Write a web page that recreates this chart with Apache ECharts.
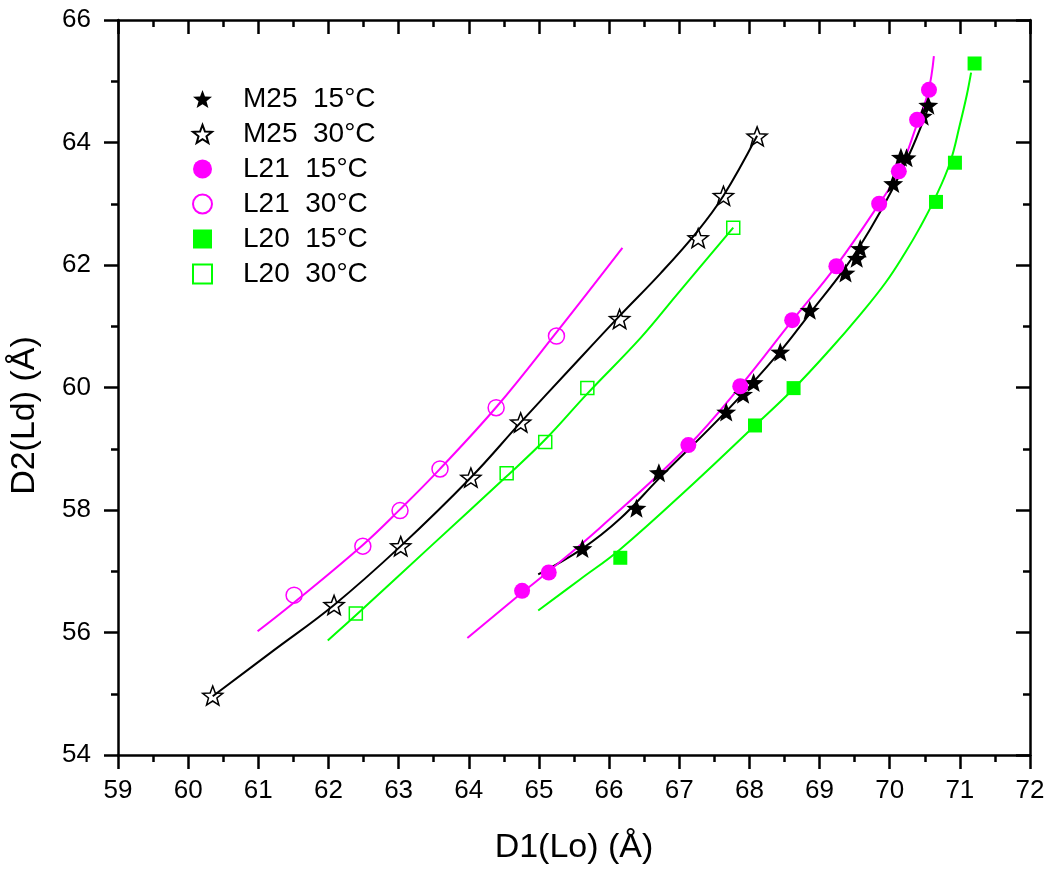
<!DOCTYPE html>
<html>
<head>
<meta charset="utf-8">
<script src="https://cdn.jsdelivr.net/npm/echarts/dist/echarts.min.js"></script>
<style>
html,body{margin:0;padding:0;background:#fff;}
#chart{width:1050px;height:870px;}
</style>
</head>
<body>
<div id="chart"></div>
<script>
// ---- tick labels ----
const xTickValues = [59,60,61,62,63,64,65,66,67,68,69,70,71,72];
const yTickValues = [54,56,58,60,62,64,66];

// ---- legend names ----
const seriesNames = ['M25  15°C','M25  30°C','L21  15°C','L21  30°C','L20  15°C','L20  30°C'];

// ---- measured points ----
const m25_15_x = [65.62,66.39,66.71,67.67,67.91,68.06,68.44,68.86,69.37,69.53,69.58,70.05,70.16,70.24,70.47,70.55];
const m25_15_y = [57.37,58.03,58.61,59.60,59.89,60.08,60.58,61.26,61.87,62.11,62.27,63.33,63.76,63.75,64.43,64.61];
const m25_30_x = [60.35,62.08,63.03,64.03,64.74,66.15,67.27,67.63,68.11];
const m25_30_y = [54.97,56.45,57.41,58.53,59.43,61.12,62.44,63.13,64.10];
const l21_15_x = [64.76,65.14,67.13,67.87,68.61,69.24,69.85,70.13,70.39,70.56];
const l21_15_y = [56.68,56.98,59.06,60.02,61.10,61.98,63.00,63.53,64.37,64.86];
const l21_30_x = [61.51,62.49,63.02,63.59,64.39,65.25];
const l21_30_y = [56.61,57.41,57.99,58.67,59.67,60.84];
const l20_15_x = [66.16,68.08,68.63,70.66,70.93,71.21];
const l20_15_y = [57.22,59.38,59.99,63.03,63.67,65.29];
const l20_30_x = [62.39,64.54,65.09,65.69,67.77];
const l20_30_y = [56.31,58.60,59.11,59.99,62.61];

// ---- fitted curves ----
const fit_m25_15_x = [64.99,65.62,66.16,66.70,67.67,68.44,68.87,69.37,69.72,70.05,70.32,70.58];
const fit_m25_15_y = [56.95,57.37,57.86,58.50,59.61,60.59,61.22,61.96,62.58,63.26,63.91,64.66];
const fit_m25_30_x = [60.35,61.21,62.08,63.03,64.03,64.74,65.45,66.15,66.73,67.26,67.63,68.11];
const fit_m25_30_y = [54.96,55.70,56.45,57.41,58.53,59.43,60.31,61.17,61.86,62.55,63.13,64.11];
const fit_l21_15_x = [63.98,64.77,65.14,65.88,67.13,67.87,68.61,69.24,69.85,70.14,70.39,70.55,70.63];
const fit_l21_15_y = [55.91,56.66,57.00,57.72,59.05,60.02,61.09,61.99,63.00,63.54,64.30,64.83,65.41];
const fit_l21_30_x = [60.99,61.51,62.49,63.02,63.58,64.40,65.25,66.19];
const fit_l21_30_y = [56.02,56.49,57.43,58.01,58.66,59.69,60.90,62.28];
const fit_l20_15_x = [64.99,65.59,66.16,67.20,68.08,68.63,69.15,69.58,69.94,70.22,70.43,70.65,70.86,71.00,71.10,71.16];
const fit_l20_15_y = [56.36,56.87,57.36,58.43,59.38,59.98,60.62,61.19,61.71,62.20,62.61,63.10,63.67,64.29,64.78,65.14];
const fit_l20_30_x = [61.99,62.39,63.46,64.54,65.09,65.69,66.45,66.97,67.77];
const fit_l20_30_y = [55.87,56.28,57.41,58.55,59.15,59.90,60.81,61.52,62.61];

// ---- build ----
const zip = (xs, ys) => xs.map((x, i) => [x, ys[i]]);
const FONT = "'Liberation Sans', Arial, sans-serif";
const BLACK = '#000000', MAG = '#ff00ff', GREEN = '#00ff00';
const STAR = 'path://M50 0L62.3 33L97.55 34.55L69.9 56.5L79.39 90.45L50 71L20.61 90.45L30.1 56.5L2.45 34.55L37.7 33Z';

const fits = [
  [fit_m25_15_x, fit_m25_15_y, BLACK],
  [fit_m25_30_x, fit_m25_30_y, BLACK],
  [fit_l21_15_x, fit_l21_15_y, MAG],
  [fit_l21_30_x, fit_l21_30_y, MAG],
  [fit_l20_15_x, fit_l20_15_y, GREEN],
  [fit_l20_30_x, fit_l20_30_y, GREEN]
];
const lineSeries = fits.map((f, i) => ({
  type: 'line', name: 'fit' + i, data: zip(f[0], f[1]),
  showSymbol: false, symbol: 'none', smooth: 0.4,
  lineStyle: {color: f[2], width: 2}, itemStyle: {color: f[2]},
  silent: true, z: 2, animation: false
}));

const marks = [
  [m25_15_x, m25_15_y, STAR, 20, BLACK, true],
  [m25_30_x, m25_30_y, STAR, 20, BLACK, false],
  [l21_15_x, l21_15_y, 'circle', 16, MAG, true],
  [l21_30_x, l21_30_y, 'circle', 16, MAG, false],
  [l20_15_x, l20_15_y, 'rect', 14, GREEN, true],
  [l20_30_x, l20_30_y, 'rect', 13, GREEN, false]
];
const scatterSeries = marks.map((m, i) => ({
  type: 'scatter', name: seriesNames[i], data: zip(m[0], m[1]),
  symbol: m[2], symbolSize: m[3], symbolKeepAspect: true,
  itemStyle: m[5] ? {color: m[4], borderWidth: 0, opacity: 1}
                  : {color: 'transparent', borderColor: m[4], borderWidth: 1.5, opacity: 1},
  z: 3, animation: false
}));

const axisLineStyle = {color: '#000', width: 2.5};
const xMin = xTickValues[0], xMax = xTickValues[xTickValues.length - 1], xInt = xTickValues[1] - xTickValues[0];
const yMin = yTickValues[0], yMax = yTickValues[yTickValues.length - 1], yInt = yTickValues[1] - yTickValues[0];

function mkAxis(pos, inside, labels, extra) {
  return Object.assign({
    type: 'value', position: pos,
    axisLine: {show: true, onZero: false, lineStyle: axisLineStyle},
    axisTick: {show: true, inside: inside, length: 14, lineStyle: {color: '#000', width: 2.5}},
    minorTick: {show: true, splitNumber: 2, length: 7, lineStyle: {color: '#000', width: 2.5}},
    splitLine: {show: false}, minorSplitLine: {show: false},
    axisLabel: {show: labels, fontSize: 26, color: '#000', fontFamily: FONT}
  }, extra);
}

const option = {
  backgroundColor: '#ffffff',
  animation: false,
  grid: {left: 117, right: 20, top: 20, bottom: 114, containLabel: false},
  xAxis: [
    mkAxis('bottom', false, true, {min: xMin, max: xMax, interval: xInt,
      axisLabel: {show: true, fontSize: 26, color: '#000', fontFamily: FONT, margin: 23},
      name: 'D1(Lo) (Å)', nameLocation: 'middle', nameGap: 76,
      nameTextStyle: {fontSize: 34, color: '#000', fontFamily: FONT}}),
    mkAxis('top', true, false, {min: xMin, max: xMax, interval: xInt})
  ],
  yAxis: [
    mkAxis('left', false, true, {min: yMin, max: yMax, interval: yInt,
      axisLabel: {show: true, fontSize: 26, color: '#000', fontFamily: FONT, margin: 27},
      name: 'D2(Ld) (Å)', nameLocation: 'middle', nameGap: 76,
      nameTextStyle: {fontSize: 34, color: '#000', fontFamily: FONT, padding: [0, 56, 0, 0]}}),
    mkAxis('right', true, false, {min: yMin, max: yMax, interval: yInt})
  ],
  legend: {
    orient: 'vertical', left: 192, top: 85, padding: 0, itemGap: 7,
    itemWidth: 19, itemHeight: 19, selectedMode: false,
    textStyle: {fontSize: 28, color: '#000', fontFamily: FONT, lineHeight: 28, padding: [0, 0, 0, 26]},
    data: seriesNames
  },
  series: lineSeries.concat(scatterSeries)
};

const chart = echarts.init(document.getElementById('chart'), null, {renderer: 'canvas'});
chart.setOption(option);
</script>
</body>
</html>
